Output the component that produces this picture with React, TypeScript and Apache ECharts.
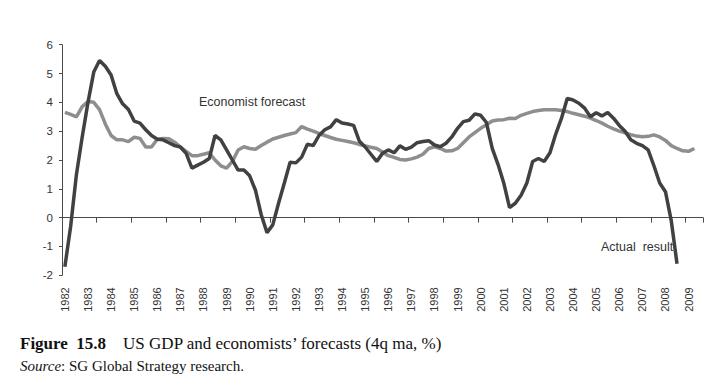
import React, { useEffect, useRef } from "react";
import * as echarts from "echarts";

const yearLabels = [
  "1982", "1983", "1984", "1985", "1986", "1987", "1988", "1989", "1990", "1991",
  "1992", "1993", "1994", "1995", "1996", "1997", "1998", "1999", "2000", "2001",
  "2002", "2003", "2004", "2005", "2006", "2007", "2008", "2009",
];
const quarterNames = ["Q1", "Q2", "Q3", "Q4"];
const quarterCount = 111; // 1982 Q1 .. 2009 Q3

const actualResult = [
  -1.70, -0.30, 1.50, 2.80, 4.00, 5.05, 5.45, 5.25, 4.95, 4.30,
  3.95, 3.75, 3.35, 3.28, 3.05, 2.85, 2.72, 2.70, 2.60, 2.50,
  2.45, 2.23, 1.72, 1.82, 1.92, 2.05, 2.85, 2.70, 2.35, 2.00,
  1.65, 1.65, 1.45, 0.95, 0.10, -0.52, -0.25, 0.50, 1.20, 1.92,
  1.90, 2.10, 2.55, 2.50, 2.85, 3.05, 3.15, 3.40, 3.28, 3.25,
  3.20, 2.65, 2.45, 2.20, 1.95, 2.23, 2.35, 2.25, 2.49, 2.37,
  2.45, 2.60, 2.64, 2.67, 2.52, 2.46, 2.58, 2.80, 3.10, 3.33,
  3.38, 3.60, 3.55, 3.30, 2.40, 1.85, 1.20, 0.35, 0.50, 0.78,
  1.20, 1.95, 2.05, 1.95, 2.25, 2.90, 3.45, 4.14, 4.08, 3.97,
  3.80, 3.50, 3.64, 3.53, 3.65, 3.45, 3.20, 3.00, 2.70, 2.58,
  2.50, 2.35, 1.80, 1.20, 0.90, -0.10, -1.60,
];

const economistForecast = [
  3.65, 3.58, 3.50, 3.85, 4.03, 4.00, 3.75, 3.25, 2.85, 2.70,
  2.70, 2.64, 2.79, 2.75, 2.45, 2.45, 2.72, 2.75, 2.74, 2.62,
  2.45, 2.30, 2.15, 2.15, 2.20, 2.25, 2.00, 1.80, 1.72, 1.95,
  2.35, 2.46, 2.40, 2.37, 2.50, 2.62, 2.73, 2.79, 2.85, 2.90,
  2.95, 3.16, 3.07, 3.00, 2.92, 2.85, 2.78, 2.72, 2.68, 2.64,
  2.60, 2.54, 2.49, 2.44, 2.40, 2.28, 2.15, 2.09, 2.02, 2.00,
  2.04, 2.10, 2.20, 2.40, 2.46, 2.40, 2.31, 2.32, 2.40, 2.60,
  2.80, 2.95, 3.10, 3.22, 3.35, 3.39, 3.40, 3.45, 3.44, 3.55,
  3.62, 3.68, 3.72, 3.74, 3.74, 3.74, 3.72, 3.68, 3.62, 3.57,
  3.52, 3.45, 3.37, 3.28, 3.17, 3.08, 3.00, 2.94, 2.88, 2.83,
  2.81, 2.82, 2.87, 2.80, 2.68, 2.50, 2.40, 2.32, 2.30, 2.40,
];

const categories: string[] = [];
yearLabels.forEach((y) => quarterNames.forEach((q) => categories.push(y + " " + q)));
categories.push("2010 Q1");
const quarters = categories.slice(0, quarterCount);

const AXIS_COLOR = "#4a4a4a";
const TEXT_COLOR = "#333333";
const SERIF = "Liberation Serif, Times New Roman, serif";
const SANS = "Liberation Sans, Arial, sans-serif";

export default function App() {
  const ref = useRef<HTMLDivElement>(null);
  useEffect(() => {
    if (!ref.current) return;
    const chart = echarts.init(ref.current, null, { renderer: "svg" });
    chart.setOption({
      animation: false,
      backgroundColor: "#ffffff",
      grid: { left: 62, right: 20, top: 44.7, bottom: 111.7, containLabel: false },
      xAxis: [
        {
          type: "category",
          data: quarters,
          boundaryGap: true,
          axisLine: { show: true, onZero: true, lineStyle: { color: AXIS_COLOR, width: 1 } },
          axisTick: { show: true, interval: 5, length: 5, lineStyle: { color: AXIS_COLOR } },
          axisLabel: { show: false },
          splitLine: { show: false },
        },
        {
          type: "category",
          data: quarters,
          position: "bottom",
          boundaryGap: true,
          axisLine: { show: false, onZero: false },
          axisTick: { show: false },
          axisLabel: {
            show: true,
            interval: 3,
            rotate: 90,
            margin: 12,
            fontSize: 11,
            fontFamily: SANS,
            color: TEXT_COLOR,
            formatter: (v: string) => v.slice(0, 4),
          },
          splitLine: { show: false },
        },
      ],
      yAxis: {
        type: "value",
        min: -2,
        max: 6,
        interval: 1,
        axisLine: { show: true, lineStyle: { color: AXIS_COLOR, width: 1 } },
        axisTick: { show: true, length: 3, lineStyle: { color: AXIS_COLOR } },
        axisLabel: {
          margin: 9,
          fontSize: 11.5,
          fontFamily: SANS,
          color: TEXT_COLOR,
        },
        splitLine: { show: false },
      },
      series: [
        {
          name: "Economist forecast",
          type: "line",
          xAxisIndex: 0,
          data: economistForecast,
          symbol: "none",
          smooth: false,
          lineStyle: { color: "#8e8e8e", width: 3.5 },
          z: 2,
        },
        {
          name: "Actual result",
          type: "line",
          xAxisIndex: 0,
          data: actualResult,
          symbol: "none",
          smooth: false,
          lineStyle: { color: "#414141", width: 3.5 },
          z: 3,
        },
      ],
      graphic: [
        {
          type: "text",
          left: 199,
          top: 95,
          style: {
            text: "Economist forecast",
            fontSize: 12.5,
            fontFamily: SANS,
            fill: "#333333",
          },
        },
        {
          type: "text",
          left: 601,
          top: 240,
          z: 1,
          style: {
            text: "Actual  result",
            fontSize: 12.5,
            fontFamily: SANS,
            fill: "#333333",
          },
        },
        {
          type: "text",
          left: 20,
          top: 335,
          style: {
            text: "{b|Figure  15.8}    {n|US GDP and economists\u2019 forecasts (4q ma, %)}",
            rich: {
              b: { fontSize: 17, fontWeight: "bold", fontFamily: SERIF, fill: "#111111" },
              n: { fontSize: 17, fontFamily: SERIF, fill: "#111111" },
            },
            fontSize: 17,
            fontFamily: SERIF,
            fill: "#111111",
          },
        },
        {
          type: "text",
          left: 20,
          top: 358,
          style: {
            text: "{i|Source}{n|: SG Global Strategy research.}",
            rich: {
              i: { fontSize: 15, fontStyle: "italic", fontFamily: SERIF, fill: "#111111" },
              n: { fontSize: 15, fontFamily: SERIF, fill: "#111111" },
            },
            fontSize: 15,
            fontFamily: SERIF,
            fill: "#111111",
          },
        },
      ],
    });
    return () => chart.dispose();
  }, []);
  return <div ref={ref} style={{ width: 723, height: 387, position: "absolute", left: 0, top: 0 }} />;
}
